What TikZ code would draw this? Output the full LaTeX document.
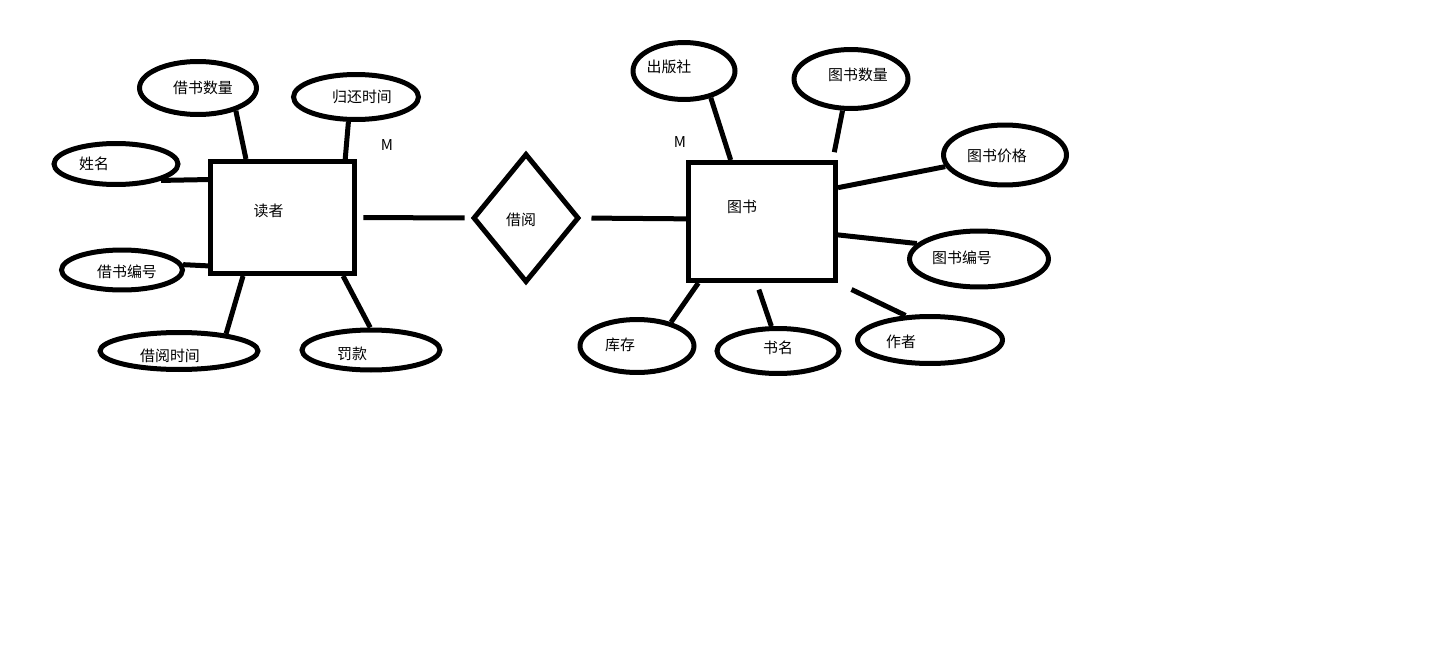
\documentclass[tikz,border=0pt]{standalone}
\usepackage{fontspec}
\setmainfont{Noto Sans CJK SC}
\usetikzlibrary{shapes.geometric}

\begin{document}
\begin{tikzpicture}[x=0.02cm, y=-0.02cm, line width=0.1cm,
    font=\fontsize{8.5}{10}\selectfont,
    entity/.style={draw, rectangle, inner sep=0pt},
    attr/.style={draw, ellipse, inner sep=0pt},
    rel/.style={draw, diamond, inner sep=0pt}]
    \useasboundingbox (0,0) rectangle (1430,666);

    % entities and relation
    \node[entity, minimum width=2.88cm, minimum height=2.24cm,
        label={[shift={(-14,-7)}]center:读者}] (dz) at (282.5,217.5) {};
    \node[entity, minimum width=2.94cm, minimum height=2.36cm,
        label={[shift={(-20,-15)}]center:图书}] (ts) at (762,221.5) {};
    \node[rel, minimum width=2.12cm, minimum height=2.58cm,
        label={[shift={(-5,2)}]center:借阅}] (jy) at (526,218) {};
    \node (m_1) at (387,145) {M};
    \node (m_2) at (680,142) {M};

    % reader attributes
    \node[attr, minimum width=2.34cm, minimum height=1.06cm,
        label={[shift={(5,0)}]center:借书数量}] (jssl) at (198,88) {};
    \node[attr, minimum width=2.50cm, minimum height=0.90cm,
        label={[shift={(6,0)}]center:归还时间}] (ghsj) at (356,97) {};
    \node[attr, minimum width=2.48cm, minimum height=0.82cm,
        label={[shift={(-22,0)}]center:姓名}] (xm) at (116,164) {};
    \node[attr, minimum width=2.42cm, minimum height=0.80cm,
        label={[shift={(5,2)}]center:借书编号}] (jsbh) at (122,270) {};
    \node[attr, minimum width=3.16cm, minimum height=0.74cm,
        label={[shift={(-9,5)}]center:借阅时间}] (jysj) at (179,351) {};
    \node[attr, minimum width=2.76cm, minimum height=0.80cm,
        label={[shift={(-19,4)}]center:罚款}] (fk) at (371,350) {};

    % book attributes
    \node[attr, minimum width=2.04cm, minimum height=1.14cm,
        label={[shift={(-15,-4)}]center:出版社}] (cbs) at (684,71) {};
    \node[attr, minimum width=2.28cm, minimum height=1.18cm,
        label={[shift={(7,-4)}]center:图书数量}] (tssl) at (851,79) {};
    \node[attr, minimum width=2.46cm, minimum height=1.20cm,
        label={[shift={(-8,1)}]center:图书价格}] (tsjg) at (1005,155) {};
    \node[attr, minimum width=2.78cm, minimum height=1.12cm,
        label={[shift={(-17,-1)}]center:图书编号}] (tsbh) at (979,259) {};
    \node[attr, minimum width=2.28cm, minimum height=1.06cm,
        label={[shift={(-17,-1)}]center:库存}] (kc) at (637,346) {};
    \node[attr, minimum width=2.44cm, minimum height=0.90cm,
        label={[shift={(0,-3)}]center:书名}] (sm) at (778,351) {};
    \node[attr, minimum width=2.90cm, minimum height=0.94cm,
        label={[shift={(-29,2)}]center:作者}] (zz) at (930,340) {};

    % connectors
    \draw[shorten <=0.13cm, shorten >=0.12cm] (dz.east) -- (jy.west);
    \draw[shorten <=0.2cm] (jy.east) -- (ts.178);
    \draw (jssl.-31) -- (dz.122);
    \draw (ghsj.-107) -- (dz.43);
    \draw (xm.-20) -- (dz.153);
    \draw (jsbh.5) -- (dz.213);
    \draw (jysj.20) -- (dz.-124);
    \draw (fk.92) -- (dz.-44);
    \draw (cbs.-45) -- (ts.117);
    \draw[shorten >=0.16cm] (tssl.-105) -- (ts.41);
    \draw (tsjg.191) -- (ts.24);
    \draw (tsbh.166) -- (ts.-10);
    \draw (kc.35) -- (ts.-136);
    \draw[shorten >=0.14cm] (sm.105) -- (ts.-95);
    \draw[shorten <=0.3cm] (ts.south east) -- (zz.135);
\end{tikzpicture}
\end{document}
